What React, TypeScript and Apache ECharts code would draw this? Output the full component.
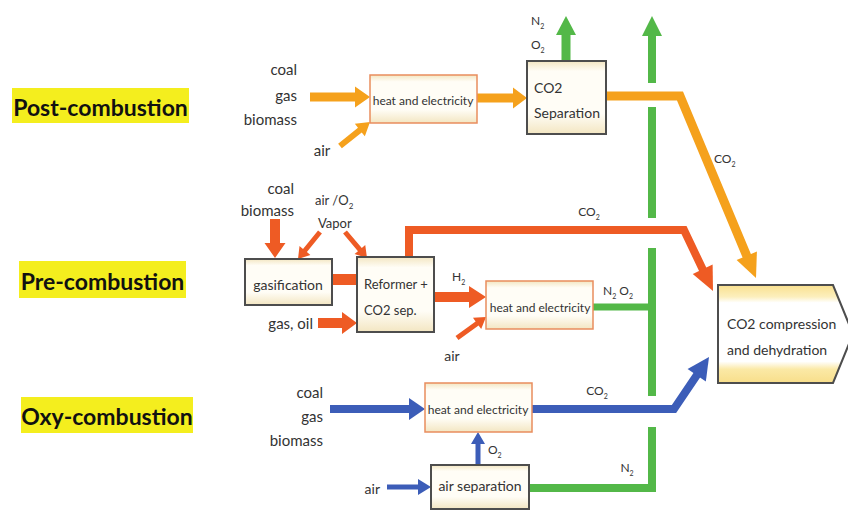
import React, { useEffect, useRef } from "react";
import * as echarts from "echarts";

const W = 848;
const H = 510;

// ---- text content ----
const rowLabels = ["Post-combustion", "Pre-combustion", "Oxy-combustion"];
const postFuels = ["coal", "gas", "biomass"];
const preFuels = ["coal", "biomass"];
const oxyFuels = ["coal", "gas", "biomass"];
const heatLabel = "heat and electricity";
const co2SepLabel = ["CO2", "Separation"];
const gasifLabel = "gasification";
const reformerLabel = ["Reformer +", "CO2 sep."];
const airSepLabel = "air separation";
const compressionLabel = ["CO2 compression", "and dehydration"];

// ---- colours ----
const ORANGE = "#F5A11C";
const RED = "#EE5B24";
const GREEN = "#53B848";
const BLUE = "#3C5DB8";
const TXT = "#333333";
const FONT = "Lato, 'Open Sans', sans-serif";

type P = [number, number];

function arrowPts(x1: number, y1: number, x2: number, y2: number, sw: number, hw: number, hl: number): P[] {
  const dx = x2 - x1, dy = y2 - y1;
  const L = Math.hypot(dx, dy);
  const ux = dx / L, uy = dy / L;
  const nx = -uy, ny = ux;
  const bx = x2 - ux * hl, by = y2 - uy * hl;
  return [
    [x1 + nx * sw / 2, y1 + ny * sw / 2],
    [bx + nx * sw / 2, by + ny * sw / 2],
    [bx + nx * hw / 2, by + ny * hw / 2],
    [x2, y2],
    [bx - nx * hw / 2, by - ny * hw / 2],
    [bx - nx * sw / 2, by - ny * sw / 2],
    [x1 - nx * sw / 2, y1 - ny * sw / 2],
  ];
}

function arrow(a: P, b: P, sw: number, hw: number, hl: number, color: string) {
  return { type: "polygon", shape: { points: arrowPts(a[0], a[1], b[0], b[1], sw, hw, hl) }, style: { fill: color } };
}

function line(points: P[], lw: number, color: string) {
  return { type: "polyline", shape: { points }, style: { stroke: color, lineWidth: lw, fill: null, lineJoin: "miter", lineCap: "butt" } };
}

function pathArrow(points: P[], lw: number, hw: number, hl: number, color: string) {
  const n = points.length;
  const a = points[n - 2], tip = points[n - 1];
  const dx = tip[0] - a[0], dy = tip[1] - a[1];
  const L = Math.hypot(dx, dy);
  const ux = dx / L, uy = dy / L;
  const nx = -uy, ny = ux;
  const base: P = [tip[0] - ux * hl, tip[1] - uy * hl];
  const pts = points.slice(0, n - 1).concat([[base[0] + ux * 1, base[1] + uy * 1] as P]);
  return [
    line(pts, lw, color),
    {
      type: "polygon",
      shape: { points: [[base[0] + nx * hw / 2, base[1] + ny * hw / 2], tip, [base[0] - nx * hw / 2, base[1] - ny * hw / 2]] },
      style: { fill: color },
    },
  ];
}

function boxFill(edge: string) {
  return new echarts.graphic.LinearGradient(0, 0, 0, 1, [
    { offset: 0, color: edge },
    { offset: 0.14, color: "#fffdf6" },
    { offset: 0.72, color: "#fffdf6" },
    { offset: 1, color: edge },
  ]);
}

function box(x: number, y: number, w: number, h: number, stroke: string) {
  return {
    type: "rect",
    shape: { x, y, width: w, height: h },
    style: { fill: boxFill("#f3e6c2"), stroke, lineWidth: stroke === "#e98d5e" ? 1.5 : 2 },
  };
}

function txt(x: number, y: number, text: string, size = 15, align = "left", extra: any = {}) {
  return {
    type: "text",
    x,
    y,
    style: { text, fill: TXT, fontSize: size, fontFamily: FONT, align, verticalAlign: "middle", ...extra },
  };
}

function chem(x: number, y: number, parts: [string, string][], size = 12, align = "left") {
  const s = Math.round(size * 0.6);
  const text = parts.map(([b, sub]) => `{b|${b}}` + (sub ? `{s|${sub}}` : "")).join("");
  return {
    type: "text",
    x,
    y,
    style: {
      text,
      align,
      verticalAlign: "middle",
      rich: {
        b: { fill: TXT, fontSize: size, fontFamily: FONT, lineHeight: size + 6 },
        s: { fill: TXT, fontSize: s, fontFamily: FONT, lineHeight: s, verticalAlign: "bottom" },
      },
    },
  };
}

function buildElements() {
  const els: any[] = [];

  // row label highlights
  const hl: [number, number, number, number][] = [
    [12, 88, 177, 35],
    [19, 261, 167, 37],
    [21, 397, 172, 36],
  ];
  rowLabels.forEach((lab, i) => {
    const [x, y, w, h] = hl[i];
    els.push({ type: "rect", shape: { x, y, width: w, height: h }, style: { fill: "#F4EE1E" } });
    els.push(txt(x + w / 2, y + h / 2 + 1, lab, 23, "center", { fontWeight: "bold", fill: "#111111" }));
  });

  // ---- green lines (bottom layer) ----
  els.push(arrow([652, 83], [652, 16], 8, 20, 20, GREEN));
  els.push(line([[652, 107], [652, 218]], 8, GREEN));
  els.push(line([[652, 248], [652, 396]], 8, GREEN));
  els.push(line([[652, 427], [652, 488], [529, 488]], 8, GREEN));
  els.push(line([[593, 307], [652, 307]], 7, GREEN));
  els.push(arrow([566, 62], [566, 16], 9, 20, 19, GREEN));

  // ---- post-combustion (orange) ----
  els.push(arrow([310, 97], [370, 97], 9, 21, 15, ORANGE));
  els.push(arrow([340, 146], [370, 122], 6, 16, 13, ORANGE));
  els.push(arrow([477, 98], [527, 98], 9, 21, 14, ORANGE));
  els.push(...pathArrow([[606, 96], [680, 96], [756, 278]], 9, 22, 24, ORANGE));

  // ---- pre-combustion (red) ----
  els.push(arrow([275, 219], [275, 258], 10, 21, 15, RED));
  els.push(arrow([320, 232], [298, 259], 5, 14, 11, RED));
  els.push(arrow([345, 232], [367, 258], 5, 14, 11, RED));
  els.push({ type: "rect", shape: { x: 332, y: 274, width: 26, height: 11 }, style: { fill: RED } });
  els.push(arrow([318, 323], [357, 323], 10, 22, 15, RED));
  els.push(...pathArrow([[409, 258], [409, 230], [684, 230], [713, 291]], 8, 22, 24, RED));
  els.push(arrow([434, 297], [486, 297], 10, 22, 17, RED));
  els.push(arrow([457, 338], [486, 317], 5, 14, 11, RED));

  // ---- oxy-combustion (blue) ----
  els.push(arrow([330, 409], [425, 409], 8, 22, 16, BLUE));
  els.push(...pathArrow([[532, 409], [674, 409], [709, 357]], 8, 22, 22, BLUE));
  els.push(arrow([478, 465], [478, 432], 5, 14, 12, BLUE));
  els.push(arrow([387, 487], [431, 487], 5, 16, 13, BLUE));

  // ---- boxes ----
  const OB = "#e98d5e";
  const DB = "#4d4d4d";
  els.push(box(370, 75, 107, 48, OB));
  els.push(box(527, 61, 79, 73, DB));
  els.push(box(245, 259, 87, 46, DB));
  els.push(box(357, 257, 77, 75, DB));
  els.push(box(486, 281, 107, 48, OB));
  els.push(box(425, 383, 107, 49, OB));
  els.push(box(431, 465, 98, 44, DB));

  // compression pentagon
  els.push({
    type: "polygon",
    shape: { points: [[718, 285], [833, 285], [853, 334], [833, 383], [718, 383]] },
    style: {
      fill: new echarts.graphic.LinearGradient(0, 0, 0, 1, [
        { offset: 0, color: "#f9e08e" },
        { offset: 0.12, color: "#fcefbd" },
        { offset: 0.18, color: "#ffffff" },
        { offset: 0.78, color: "#ffffff" },
        { offset: 0.86, color: "#fbe9a6" },
        { offset: 1, color: "#f8de8a" },
      ]),
      stroke: DB,
      lineWidth: 2,
    },
  });

  // ---- texts ----
  // post
  postFuels.forEach((f, i) => els.push(txt(297, [69, 95, 119][i], f, 15, "right")));
  els.push(txt(322, 150, "air", 15, "center"));
  els.push(txt(423, 100, heatLabel, 12, "center"));
  els.push(txt(534, 87, co2SepLabel[0], 14));
  els.push(txt(534, 112, co2SepLabel[1], 14));
  els.push(chem(531, 20, [["N", "2"]], 12));
  els.push(chem(531, 44, [["O", "2"]], 12));
  els.push(chem(714, 158, [["CO", "2"]], 12));

  // pre
  preFuels.forEach((f, i) => els.push(txt(294, [188, 210][i], f, 15, "right")));
  els.push(chem(315, 200, [["air /O", "2"]], 13));
  els.push(txt(318, 223, "Vapor", 13));
  els.push(txt(288, 284, gasifLabel, 14, "center"));
  els.push(txt(364, 284, reformerLabel[0], 13));
  els.push(txt(364, 310, reformerLabel[1], 13));
  els.push(txt(313, 323, "gas, oil", 15, "right"));
  els.push(chem(589, 211, [["CO", "2"]], 12, "center"));
  els.push(chem(452, 276, [["H", "2"]], 12));
  els.push(txt(540, 307, heatLabel, 12, "center"));
  els.push(chem(603, 290, [["N", "2"], [" O", "2"]], 12));
  els.push(txt(452, 355, "air", 14, "center"));

  // oxy
  oxyFuels.forEach((f, i) => els.push(txt(323, [392, 416, 440][i], f, 15, "right")));
  els.push(txt(478, 409, heatLabel, 12, "center"));
  els.push(chem(597, 390, [["CO", "2"]], 12, "center"));
  els.push(chem(488, 449, [["O", "2"]], 12));
  els.push(txt(480, 485, airSepLabel, 14, "center"));
  els.push(chem(627, 467, [["N", "2"]], 12, "center"));
  els.push(txt(380, 488, "air", 14, "right"));

  // compression
  els.push(txt(727, 323, compressionLabel[0], 14));
  els.push(txt(727, 349, compressionLabel[1], 14));

  return els;
}

export default function App() {
  const ref = useRef<HTMLDivElement>(null);
  useEffect(() => {
    if (!ref.current) return;
    const chart = echarts.init(ref.current, undefined, { renderer: "svg" });
    chart.setOption({
      animation: false,
      backgroundColor: "#ffffff",
      graphic: { elements: buildElements() },
    });
    return () => chart.dispose();
  }, []);
  return <div ref={ref} style={{ position: "absolute", left: 0, top: 0, width: W, height: H }} />;
}
